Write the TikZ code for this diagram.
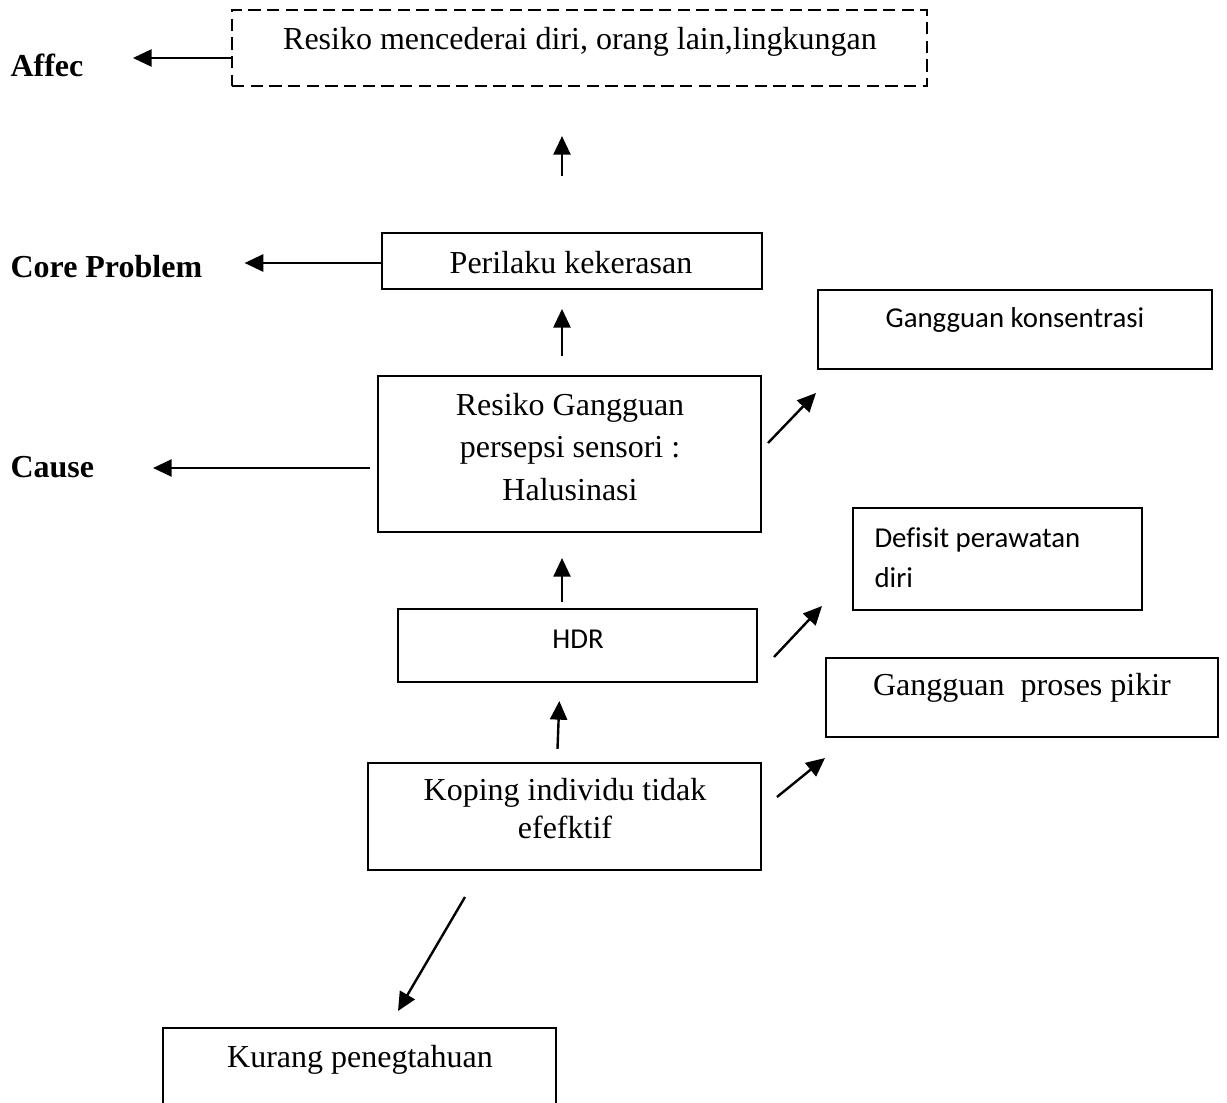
\documentclass[tikz,border=0pt]{standalone}
\usepackage{fontspec}
\setmainfont{Liberation Serif}[Ligatures=NoCommon]
\newfontfamily\calibri{Carlito}[Ligatures=NoCommon]
\usetikzlibrary{arrows.meta,fit}

\tikzset{
  boxline/.style={draw, line width=0.75pt, inner sep=0pt},
  dashbox/.style={boxline, dash pattern=on 4.6pt off 2.4pt},
  arr/.style={-{Triangle[length=7pt,width=6.4pt]}, line width=0.9pt},
  gap/.style 2 args={shorten <=#1, shorten >=#2},
  level/.style={font=\bfseries\fontsize{12}{14}\selectfont, inner sep=0pt, anchor=base west},
  txt/.style={font=\fontsize{12}{14}\selectfont, inner sep=0pt, anchor=base, align=center},
  sanstxt/.style={font=\calibri\fontsize{10.8}{13}\selectfont, inner sep=0pt, anchor=base},
}

\newcommand{\diagBox}[5]{
  % box drawn from its corners
  % args: name, left, top, right, bottom
  \node[boxline, fit={(#2,#3) (#4,#5)}] (#1) {};
}

\begin{document}
\begin{tikzpicture}[x=0.375pt, y=-0.375pt]
  \useasboundingbox (0,0) rectangle (1227,1103);
  %
  % boxes
  \node[dashbox, fit={(232,10) (927,86)}] (risk) {};
  \diagBox{peri}{382}{233}{762}{289}
  \diagBox{hal}{378}{376}{761}{532}
  \diagBox{hdr}{398}{609}{757}{682}
  \diagBox{koping}{368}{763}{761}{870}
  \diagBox{kurang}{163}{1028}{556}{1120}
  \diagBox{konsen}{818}{290}{1212}{369}
  \diagBox{defisit}{853}{508}{1142}{610}
  \diagBox{proses}{826}{658}{1218}{737}
  %
  % texts in the boxes (base = last line)
  \node[txt] (risk_txt) at (580,50) {Resiko mencederai diri, orang lain,lingkungan};
  \node[txt] (peri_txt) at (571,273) {Perilaku kekerasan};
  \node[txt, font=\fontsize{12}{15.9}\selectfont] (hal_txt) at (570,500)
    {Resiko Gangguan\\persepsi sensori :\\Halusinasi};
  \node[sanstxt] (hdr_txt) at (578,648) {HDR};
  \node[txt, font=\fontsize{12}{14.25}\selectfont] (koping_txt) at (565,838)
    {Koping individu tidak\\efefktif};
  \node[txt] (kurang_txt) at (360,1067) {Kurang penegtahuan};
  \node[sanstxt] (konsen_txt) at (1015,327) {Gangguan konsentrasi};
  \node[sanstxt, anchor=base west, align=left, font=\calibri\fontsize{10.8}{15}\selectfont]
    (defisit_txt) at (874,587) {Defisit perawatan\\diri};
  \node[txt] (proses_txt) at (1022,695) {Gangguan~ proses pikir};
  %
  % levels on the left
  \node[level] (affec) at (10,77) {Affec};
  \node[level] (core) at (10,277) {Core Problem};
  \node[level] (cause) at (10,477) {Cause};
  %
  % arrows to the levels
  \draw[arr, gap={0pt}{18.4pt}] (risk.west |- 0,58) -- (affec.east |- 0,58);
  \draw[arr, gap={0pt}{15.7pt}] (peri.west |- 0,263) -- (core.east |- 0,263);
  \draw[arr, gap={2.6pt}{21.9pt}] (hal.west |- 0,468) -- (cause.east |- 0,468);
  %
  % arrows up the chain
  \draw[arr, gap={21pt}{18.4pt}] (peri.north -| 562,0) -- (risk.south -| 562,0);
  \draw[arr, gap={7.1pt}{7.1pt}] (hal.north -| 562,0) -- (peri.south -| 562,0);
  \draw[arr, gap={2.25pt}{9.4pt}] (hdr.north -| 562,0) -- (hal.south -| 562,0);
  \draw[arr, gap={4.9pt}{6.75pt}] (koping.north -| 557,0) -- (hdr.south -| 560,0);
  %
  % arrows to the side problems
  \draw[arr] ([shift={(6,-11)}]hal.east) -- ([shift={(-1,23)}]konsen.south west);
  \draw[arr] ([shift={(16,11.5)}]hdr.east) -- ([shift={(-30,-5)}]defisit.south west);
  \draw[arr] ([shift={(15,-19.5)}]koping.east) -- ([shift={(0,20)}]proses.south west);
  \draw[arr] ([shift={(-99.5,26)}]koping.south) -- ([shift={(38.5,-16)}]kurang.north);
\end{tikzpicture}
\end{document}
